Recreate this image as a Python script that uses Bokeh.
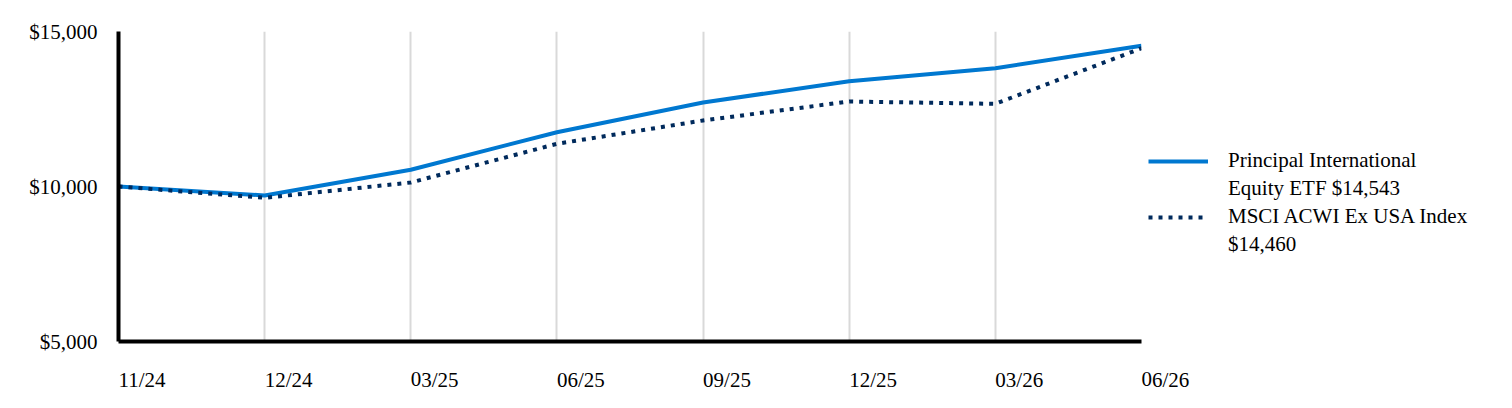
from bokeh.plotting import figure
from bokeh.models import Range1d, FixedTicker, Legend, LegendItem
from bokeh.embed import file_html
from bokeh.resources import INLINE

dates = ["11/24", "12/24", "03/25", "06/25", "09/25", "12/25", "03/26", "06/26"]
principal = [10000, 9710, 10540, 11752, 12710, 13397, 13817, 14543]
msci = [10000, 9635, 10129, 11377, 12130, 12742, 12667, 14460]
y_ticks = [5000, 10000, 15000]
y_labels = ["$5,000", "$10,000", "$15,000"]
name1 = ["Principal International", "Equity ETF $14,543"]
name2 = ["MSCI ACWI Ex USA Index", "$14,460"]

FONT = "Liberation Serif"
FS = "21px"

x = list(range(len(dates)))

p = figure(width=1504, height=400, output_backend="svg", toolbar_location=None,
           x_range=Range1d(0, len(dates) - 1), y_range=Range1d(5000, 15000),
           frame_width=1023, frame_height=310,
           min_border_left=118, min_border_right=363, min_border_top=31, min_border_bottom=59)
p.outline_line_color = None
p.background_fill_color = "white"

r1 = p.line(x, principal, line_color="#0078D0", line_width=4)
r2 = p.line(x, msci, line_color="#002A5C", line_width=4, line_dash="4 6")
# invisible companions used only to carry the second line of each legend label
r1b = p.line(x, principal, line_alpha=0)
r2b = p.line(x, msci, line_alpha=0)

p.xaxis.ticker = FixedTicker(ticks=x)
p.xaxis.major_label_overrides = {i: d for i, d in enumerate(dates)}
p.xaxis.major_label_orientation = -1e-6
p.xaxis.major_label_standoff = 32
p.yaxis.ticker = FixedTicker(ticks=y_ticks)
p.yaxis.major_label_overrides = {t: l for t, l in zip(y_ticks, y_labels)}
p.yaxis.major_label_standoff = 15
for ax in (p.xaxis, p.yaxis):
    ax.axis_line_color = "black"
    ax.axis_line_width = 4
    ax.major_tick_line_color = None
    ax.minor_tick_line_color = None
    ax.major_label_text_font = FONT
    ax.major_label_text_font_size = FS
    ax.major_label_text_color = "black"

p.xgrid.grid_line_color = "#D9D9D9"
p.xgrid.grid_line_width = 2
p.ygrid.grid_line_color = None

legend = Legend(items=[LegendItem(label=name1[0], renderers=[r1]),
                       LegendItem(label=name1[1], renderers=[r1b]),
                       LegendItem(label=name2[0], renderers=[r2]),
                       LegendItem(label=name2[1], renderers=[r2b])],
                location=(7, 84))
legend.label_text_font = FONT
legend.label_text_font_size = FS
legend.label_text_color = "black"
legend.glyph_width = 60
legend.glyph_height = 20
legend.label_height = 20
legend.label_standoff = 20
legend.padding = 0
legend.margin = 0
legend.spacing = 3
legend.border_line_color = None
legend.background_fill_alpha = 0
p.add_layout(legend, "right")

open("out.html", "w").write(file_html(p, INLINE))
